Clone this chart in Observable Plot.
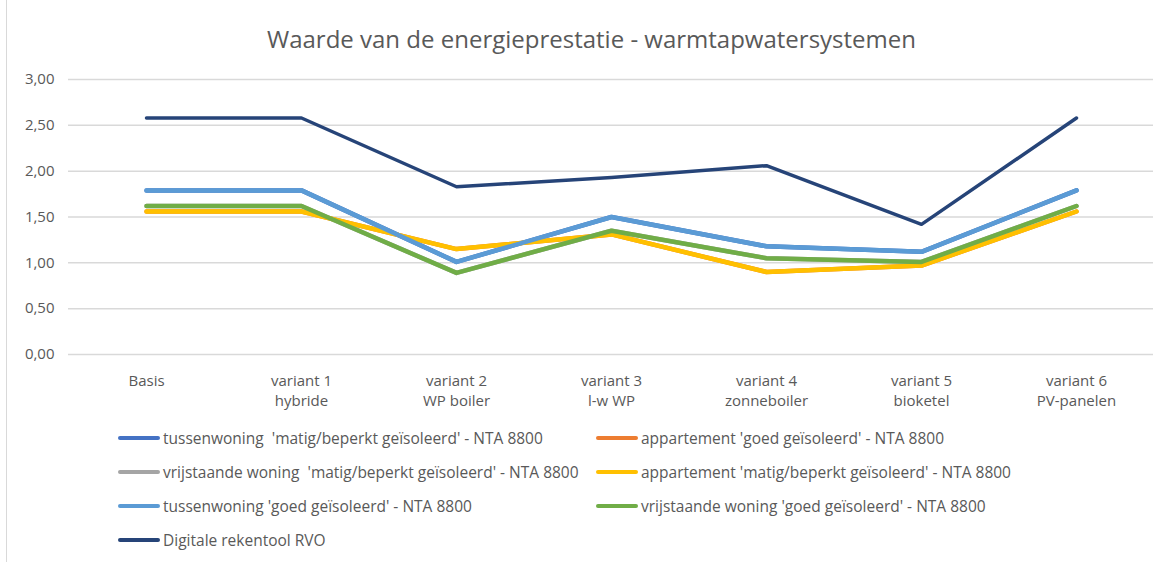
<!DOCTYPE html>
<html>
<head>
<meta charset="utf-8">
<script src="https://cdn.jsdelivr.net/npm/d3@7"></script>
<script src="https://cdn.jsdelivr.net/npm/@observablehq/plot@0.6"></script>
<style>
  html, body { margin: 0; padding: 0; background: #fff; }
  #wrap { position: relative; width: 1167px; height: 562px; font-family: "Open Sans", sans-serif; color: #595959; overflow: hidden; }
  #wrap::before { content: ""; position: absolute; left: 6px; top: 0; bottom: 0; width: 1px; background: #d9d9d9; }
  #title { height: 62px; line-height: 78px; text-align: center; font-size: 24px; padding-left: 16px; box-sizing: border-box; }
  #legend { display: grid; grid-template-columns: 478px auto; padding-left: 118px; margin-top: 9px; font-size: 15.5px; }
  .item { display: flex; align-items: center; height: 34px; white-space: pre; }
  .sw { width: 42px; height: 4px; margin-right: 3px; border-radius: 2px; }
</style>
</head>
<body>
<div id="wrap">
  <div id="title">Waarde van de energieprestatie - warmtapwatersystemen</div>
  <div id="chart"></div>
  <div id="legend"></div>
</div>
<script>
const categories = ["Basis", "variant 1", "variant 2", "variant 3", "variant 4", "variant 5", "variant 6"];
const categorySubs = ["", "hybride", "WP boiler", "l-w WP", "zonneboiler", "bioketel", "PV-panelen"];
const yTicks = [0, 0.5, 1, 1.5, 2, 2.5, 3];

const seriesNames = [
  "tussenwoning  'matig/beperkt geïsoleerd' - NTA 8800",
  "appartement 'goed geïsoleerd' - NTA 8800",
  "vrijstaande woning  'matig/beperkt geïsoleerd' - NTA 8800",
  "appartement 'matig/beperkt geïsoleerd' - NTA 8800",
  "tussenwoning 'goed geïsoleerd' - NTA 8800",
  "vrijstaande woning 'goed geïsoleerd' - NTA 8800",
  "Digitale rekentool RVO"
];
const seriesColors = ["#4472C4", "#ED7D31", "#A5A5A5", "#FFC000", "#5B9BD5", "#70AD47", "#264478"];

// values per series (hidden series lie underneath the visible ones)
const tussenwoningMatig   = [1.79, 1.79, 1.01, 1.50, 1.18, 1.12, 1.79];
const appartementGoed     = [1.56, 1.56, 1.15, 1.31, 0.90, 0.97, 1.56];
const vrijstaandeMatig    = [1.62, 1.62, 0.89, 1.35, 1.05, 1.01, 1.62];
const appartementMatig    = [1.56, 1.56, 1.15, 1.31, 0.90, 0.97, 1.56];
const tussenwoningGoed    = [1.79, 1.79, 1.01, 1.50, 1.18, 1.12, 1.79];
const vrijstaandeGoed     = [1.62, 1.62, 0.89, 1.35, 1.05, 1.01, 1.62];
const rekentoolRVO        = [2.58, 2.58, 1.83, 1.93, 2.06, 1.42, 2.58];

const seriesValues = [tussenwoningMatig, appartementGoed, vrijstaandeMatig, appartementMatig, tussenwoningGoed, vrijstaandeGoed, rekentoolRVO];

const data = [];
seriesNames.forEach((s, i) => {
  seriesValues[i].forEach((v, j) => data.push({series: s, order: i, cat: categories[j], value: v}));
});

const labelOf = Object.fromEntries(categories.map((c, i) => [c, categorySubs[i] ? c + "\n" + categorySubs[i] : c]));

const chart = Plot.plot({
  width: 1167,
  height: 350,
  marginLeft: 68,
  marginRight: 14,
  marginTop: 17,
  marginBottom: 58,
  style: {fontFamily: "'Open Sans', sans-serif", fontSize: "15px", color: "#595959", background: "transparent"},
  x: {type: "point", domain: categories, padding: 0.5},
  y: {domain: [0, 3]},
  color: {domain: seriesNames, range: seriesColors},
  marks: [
    Plot.ruleY(yTicks, {stroke: "#d9d9d9", strokeWidth: 1.5}),
    Plot.axisY({ticks: yTicks, tickSize: 0, tickPadding: 14, tickFormat: d => d.toFixed(2).replace(".", ","), fill: "#595959", label: null}),
    Plot.axisX({tickSize: 0, tickPadding: 17, tickFormat: d => labelOf[d], fill: "#595959", label: null, lineHeight: 1.35}),
    Plot.line(data, {x: "cat", y: "value", z: "series", stroke: "series", strokeWidth: d => d.order === 6 ? 3.5 : 4.5, strokeLinejoin: "round", strokeLinecap: "round"})
  ]
});
document.getElementById("chart").appendChild(chart);

const legend = document.getElementById("legend");
seriesNames.forEach((s, i) => {
  const item = document.createElement("div");
  item.className = "item";
  const sw = document.createElement("span");
  sw.className = "sw";
  sw.style.background = seriesColors[i];
  item.appendChild(sw);
  item.appendChild(document.createTextNode(s));
  legend.appendChild(item);
});
</script>
</body>
</html>
